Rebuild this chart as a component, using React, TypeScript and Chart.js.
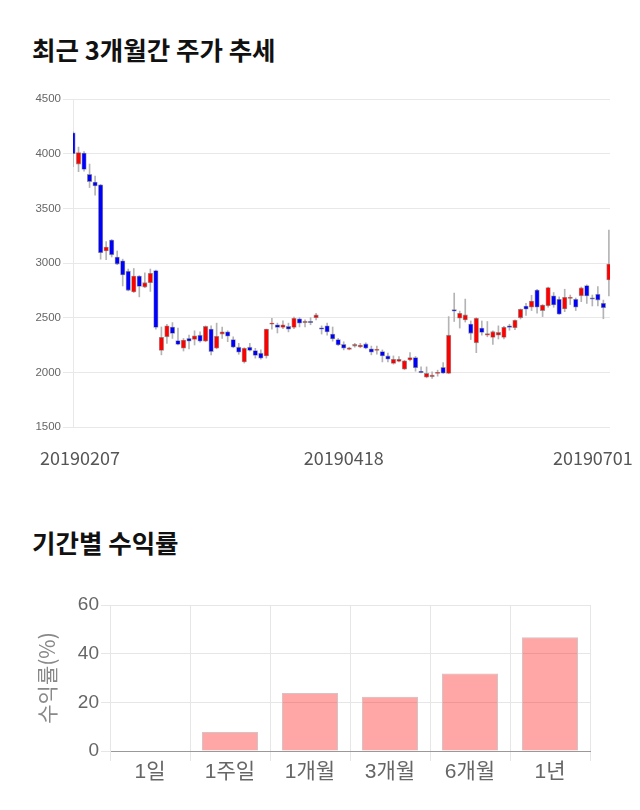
import React, { useEffect, useRef } from 'react';
import { Chart, registerables } from 'chart.js';

Chart.register(...registerables);

// ---- Candlestick data (3 months of daily prices) ----
const opens = [
  4190, 3905, 4005, 3810, 3740, 3715, 3110, 3210, 3055, 3020,
  2925, 2735, 2880, 2780, 2820, 2930, 2200, 2325, 2415, 2290,
  2220, 2310, 2300, 2340, 2285, 2395, 2220, 2350, 2370, 2300,
  2230, 2095, 2230, 2200, 2175, 2150, 2440, 2435, 2410, 2420,
  2410, 2490, 2455, 2460, 2500, 2400, 2425, 2350, 2300, 2255,
  2210, 2240, 2232, 2260, 2215, 2200, 2190, 2150, 2082, 2100,
  2028, 2113, 2135, 2000, 1955, 1960, 1990, 2045, 1990, 2575,
  2495, 2480, 2442, 2270, 2405, 2340, 2320, 2340, 2320, 2425,
  2408, 2500, 2607, 2595, 2753, 2565, 2610, 2700, 2668, 2580,
  2675, 2668, 2700, 2793, 2672, 2713, 2631, 2845,
];
const highs = [
  4200, 4060, 4020, 3905, 3795, 3720, 3195, 3215, 3110, 3035,
  2945, 2950, 2885, 2910, 2945, 2935, 2415, 2440, 2455, 2405,
  2310, 2340, 2380, 2370, 2425, 2425, 2450, 2415, 2380, 2325,
  2265, 2225, 2265, 2220, 2205, 2395, 2495, 2450, 2470, 2450,
  2505, 2500, 2480, 2500, 2540, 2425, 2450, 2415, 2310, 2280,
  2230, 2265, 2265, 2270, 2240, 2240, 2205, 2175, 2150, 2145,
  2110, 2180, 2145, 2050, 2050, 2005, 2020, 2090, 2510, 2725,
  2560, 2670, 2470, 2500, 2470, 2465, 2380, 2425, 2420, 2440,
  2480, 2580, 2630, 2705, 2760, 2620, 2780, 2730, 2690, 2760,
  2707, 2680, 2780, 2800, 2707, 2785, 2661, 3300,
];
const lows = [
  3880, 3835, 3840, 3690, 3620, 3035, 3030, 3055, 2985, 2790,
  2745, 2730, 2690, 2775, 2740, 2395, 2160, 2265, 2310, 2250,
  2195, 2215, 2250, 2275, 2280, 2160, 2215, 2310, 2280, 2225,
  2165, 2085, 2195, 2130, 2120, 2130, 2395, 2360, 2400, 2370,
  2400, 2415, 2415, 2435, 2480, 2350, 2340, 2285, 2245, 2205,
  2205, 2230, 2225, 2215, 2160, 2165, 2095, 2095, 2075, 2095,
  2025, 2105, 2010, 1995, 1950, 1945, 1965, 1990, 1988, 2465,
  2405, 2460, 2300, 2180, 2340, 2325, 2255, 2305, 2305, 2385,
  2390, 2488, 2520, 2565, 2540, 2510, 2595, 2595, 2530, 2555,
  2620, 2565, 2646, 2630, 2607, 2607, 2490, 2700,
];
const closes = [
  4000, 4010, 3855, 3745, 3705, 3095, 3145, 3075, 2990, 2890,
  2750, 2880, 2785, 2820, 2905, 2410, 2320, 2425, 2355, 2255,
  2295, 2285, 2335, 2285, 2420, 2190, 2330, 2370, 2330, 2230,
  2185, 2220, 2200, 2155, 2130, 2395, 2445, 2410, 2435, 2395,
  2495, 2450, 2460, 2455, 2525, 2395, 2370, 2305, 2250, 2220,
  2225, 2255, 2250, 2220, 2185, 2202, 2150, 2120, 2120, 2120,
  2105, 2135, 2042, 1998, 1990, 1975, 2000, 1992, 2340, 2560,
  2540, 2525, 2357, 2495, 2365, 2355, 2372, 2365, 2412, 2410,
  2475, 2577, 2577, 2652, 2595, 2616, 2775, 2616, 2531, 2686,
  2678, 2595, 2772, 2698, 2670, 2661, 2592, 2990,
];
const dateTickLabels = ['20190207', '20190418', '20190701'];
const priceMin = 1500;
const priceMax = 4500;
const priceStep = 500;

// ---- Period returns ----
const periodLabels = ['1일', '1주일', '1개월', '3개월', '6개월', '1년'];
const periodReturns = [0, 7.8, 23.8, 22.3, 31.8, 46.7];

const UP = '#ff0000';
const DOWN = '#0000ff';

export default function App() {
  const priceRef = useRef<HTMLCanvasElement>(null);
  const returnRef = useRef<HTMLCanvasElement>(null);

  useEffect(() => {
    const bodyData = opens.map((o, i) => ({ x: i, y: [o, closes[i]] }));
    const wickData = lows.map((l, i) => ({ x: i, y: [l, highs[i]] }));
    const bodyColors = opens.map((o, i) => (closes[i] >= o ? UP : DOWN));
    const lastIndex = opens.length - 1;
    // label anchor points along the index axis (first, middle, last date)
    const tickAnchors = [1.25, 49, lastIndex - 2.9];

    const priceChart = new Chart(priceRef.current as HTMLCanvasElement, {
      type: 'bar',
      data: {
        datasets: [
          {
            label: 'body',
            data: bodyData as any,
            backgroundColor: bodyColors,
            borderColor: 'rgba(90,90,90,0.6)',
            borderWidth: 0.8,
            borderSkipped: false,
            barThickness: 4.5,
            minBarLength: 1.2,
            grouped: false,
            clip: 0,
          } as any,
          {
            label: 'wick',
            data: wickData as any,
            backgroundColor: '#b4b4b4',
            borderWidth: 0,
            barThickness: 1,
            grouped: false,
            clip: 0,
          } as any,
        ],
      },
      options: {
        animation: false,
        responsive: true,
        maintainAspectRatio: false,
        layout: { padding: { top: 19, right: 30, left: 0, bottom: 0 } },
        plugins: { legend: { display: false }, tooltip: { enabled: false } },
        scales: {
          x: {
            type: 'linear',
            offset: false,
            min: 0,
            max: lastIndex + 0.2,
            grid: { display: false },
            border: { display: false },
            afterBuildTicks: (s: any) => {
              s.ticks = tickAnchors.map((v) => ({ value: v }));
            },
            afterFit: (s: any) => {
              s.paddingLeft = 0;
              s.paddingRight = 0;
              s.height = 53;
            },
            ticks: {
              autoSkip: false,
              maxRotation: 0,
              minRotation: 0,
              padding: 12,
              color: '#555',
              font: { family: "'Noto Sans CJK KR', sans-serif", size: 18 },
              callback: (_v: any, i: number) => dateTickLabels[i],
            },
          } as any,
          y: {
            min: priceMin,
            max: priceMax,
            ticks: {
              stepSize: priceStep,
              color: '#666',
              padding: 2,
              font: { family: "'Liberation Sans', Arial, sans-serif", size: 11.5 },
              callback: (v: any) => String(v),
            },
            grid: { color: '#e8e8e8', tickLength: 10 },
            border: { color: '#e8e8e8' },
            afterFit: (s: any) => {
              s.width = 73;
            },
          } as any,
        },
      },
    });

    const returnChart = new Chart(returnRef.current as HTMLCanvasElement, {
      type: 'bar',
      data: {
        labels: periodLabels,
        datasets: [
          {
            data: periodReturns,
            backgroundColor: 'rgba(255,0,0,0.35)',
            borderColor: 'rgba(210,190,190,0.9)',
            borderWidth: 1,
            barPercentage: 0.875,
            categoryPercentage: 0.8,
          },
        ],
      },
      options: {
        animation: false,
        responsive: true,
        maintainAspectRatio: false,
        layout: { padding: { top: 25, right: 50, left: 0, bottom: 0 } },
        plugins: { legend: { display: false }, tooltip: { enabled: false } },
        scales: {
          x: {
            grid: {
              color: (ctx: any) => (ctx.index === periodLabels.length ? 'rgba(0,0,0,0)' : '#e6e6e6'),
              tickLength: 10,
              offset: true,
            },
            border: { color: '#999' },
            ticks: {
              color: '#666',
              padding: -1,
              font: { family: "'Liberation Sans', 'Noto Sans CJK KR', sans-serif", size: 21 },
            },
            afterFit: (s: any) => {
              s.height = 59;
            },
          } as any,
          y: {
            min: 0,
            max: 60,
            ticks: {
              stepSize: 20,
              color: '#666',
              padding: 2,
              font: { family: "'Liberation Sans', Arial, sans-serif", size: 19 },
            },
            grid: { color: '#e6e6e6', tickLength: 9 },
            border: { color: '#e6e6e6' },
            title: {
              display: true,
              text: '수익률(%)',
              color: '#888',
              padding: { top: 34, bottom: 0 },
              font: { family: "'Noto Sans CJK KR', sans-serif", size: 21 },
            },
            afterFit: (s: any) => {
              s.width = 110;
            },
          } as any,
        },
      },
    });

    return () => {
      priceChart.destroy();
      returnChart.destroy();
    };
  }, []);

  const titleStyle: React.CSSProperties = {
    position: 'absolute',
    left: 32,
    fontSize: 25.5,
    lineHeight: '26px',
    fontWeight: 700,
    color: '#111',
    whiteSpace: 'nowrap',
    fontFamily: "'Noto Sans CJK KR', sans-serif",
  };

  return (
    <div style={{ position: 'absolute', left: 0, top: 0, width: 640, height: 810, background: '#fff' }}>
      <div style={{ ...titleStyle, top: 36 }}>최근 3개월간 주가 추세</div>
      <div style={{ position: 'absolute', left: 0, top: 80, width: 640, height: 400 }}>
        <canvas ref={priceRef} />
      </div>
      <div style={{ ...titleStyle, top: 529 }}>기간별 수익률</div>
      <div style={{ position: 'absolute', left: 0, top: 580, width: 640, height: 230 }}>
        <canvas ref={returnRef} />
      </div>
    </div>
  );
}
